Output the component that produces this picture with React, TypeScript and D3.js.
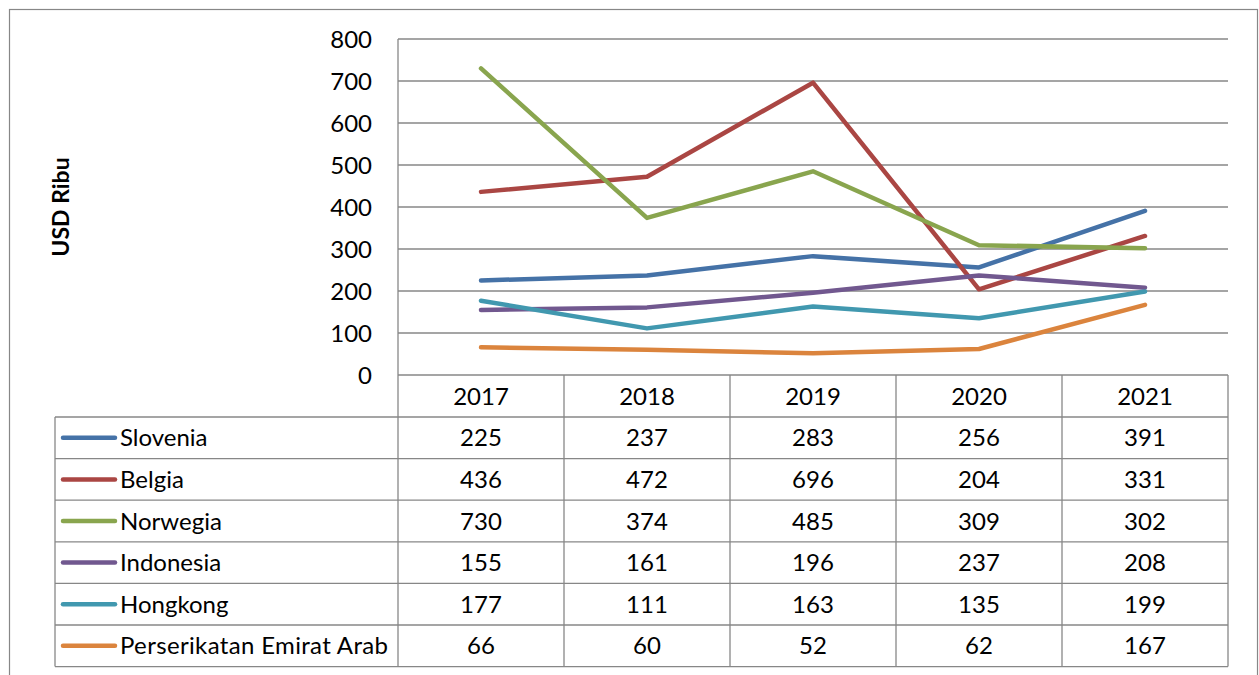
import React from 'react';
import * as d3 from 'd3';

const years = ['2017', '2018', '2019', '2020', '2021'];
const seriesNames = ['Slovenia', 'Belgia', 'Norwegia', 'Indonesia', 'Hongkong', 'Perserikatan Emirat Arab'];
const slovenia = [225, 237, 283, 256, 391];
const belgia = [436, 472, 696, 204, 331];
const norwegia = [730, 374, 485, 309, 302];
const indonesia = [155, 161, 196, 237, 208];
const hongkong = [177, 111, 163, 135, 199];
const emiratArab = [66, 60, 52, 62, 167];
const yTicks = [0, 100, 200, 300, 400, 500, 600, 700, 800];
const colors = ['#4572A7', '#AA4643', '#89A54E', '#71588F', '#4198AF', '#DB843D'];

const seriesValues = [slovenia, belgia, norwegia, indonesia, hongkong, emiratArab];

const W = 1259;
const H = 675;
const plot = { left: 398, right: 1228, top: 39, bottom: 375 };
const tableLeft = 55;
const headerH = 42;
const rowH = 41.6;
const gridColor = '#878787';
const font = 'Lato, "DejaVu Sans", sans-serif';
const fs = 24;

const App = () => {
  // scales
  const x = d3.scaleBand<string>().domain(years).range([plot.left, plot.right]).padding(0);
  const y = d3.scaleLinear().domain([0, 800]).range([plot.bottom, plot.top]);
  const cx = (yr: string) => (x(yr) as number) + x.bandwidth() / 2;

  const line = d3
    .line<number>()
    .x((_, i) => cx(years[i]))
    .y((d) => y(d));

  const tableTop = plot.bottom + headerH;
  const tableBottom = tableTop + rowH * seriesNames.length;

  return (
    <svg
      width={W}
      height={H}
      style={{ position: 'absolute', left: 0, top: 0, background: '#fff' }}
      fontFamily={font}
    >
      <rect x={9.5} y={9.5} width={1248} height={700} fill="none" stroke={gridColor} strokeWidth={1.2} />

      {/* gridlines + y axis */}
      {yTicks.map((t) => (
        <g key={t}>
          <line x1={plot.left} x2={plot.right} y1={y(t)} y2={y(t)} stroke={gridColor} strokeWidth={1.3} />
          <text x={372} y={y(t)} dy="0.36em" textAnchor="end" fontSize={fs} fill="#000">
            {t}
          </text>
        </g>
      ))}
      <line x1={plot.left} x2={plot.left} y1={plot.top} y2={tableBottom} stroke={gridColor} strokeWidth={1.3} />

      <text
        transform={`translate(69,${(plot.top + plot.bottom) / 2}) rotate(-90)`}
        textAnchor="middle"
        fontSize={23}
        fontWeight="bold"
      >
        USD Ribu
      </text>

      {/* data table */}
      {years.map((yr) => (
        <g key={yr}>
          <line
            x1={(x(yr) as number) + x.bandwidth()}
            x2={(x(yr) as number) + x.bandwidth()}
            y1={plot.bottom}
            y2={tableBottom}
            stroke={gridColor}
            strokeWidth={1.3}
          />
          <text x={cx(yr)} y={plot.bottom + headerH / 2} dy="0.36em" textAnchor="middle" fontSize={fs}>
            {yr}
          </text>
        </g>
      ))}
      {seriesNames.map((name, s) => {
        const top = tableTop + rowH * s;
        const mid = top + rowH / 2;
        return (
          <g key={name}>
            <line x1={tableLeft} x2={plot.right} y1={top} y2={top} stroke={gridColor} strokeWidth={1.3} />
            <line x1={63} x2={115} y1={mid} y2={mid} stroke={colors[s]} strokeWidth={4.5} strokeLinecap="round" />
            <text x={120} y={mid} dy="0.36em" fontSize={fs} textLength={name.length > 20 ? 268 : undefined}>
              {name}
            </text>
            {seriesValues[s].map((v, i) => (
              <text key={i} x={cx(years[i])} y={mid} dy="0.36em" textAnchor="middle" fontSize={fs}>
                {v}
              </text>
            ))}
          </g>
        );
      })}
      <line x1={tableLeft} x2={plot.right} y1={tableBottom} y2={tableBottom} stroke={gridColor} strokeWidth={1.3} />
      <line x1={tableLeft} x2={tableLeft} y1={tableTop} y2={tableBottom} stroke={gridColor} strokeWidth={1.3} />

      {/* series lines */}
      {seriesValues.map((vals, s) => (
        <path
          key={seriesNames[s]}
          d={line(vals) ?? ''}
          fill="none"
          stroke={colors[s]}
          strokeWidth={4.5}
          strokeLinecap="round"
          strokeLinejoin="round"
        />
      ))}
    </svg>
  );
};

export default App;
